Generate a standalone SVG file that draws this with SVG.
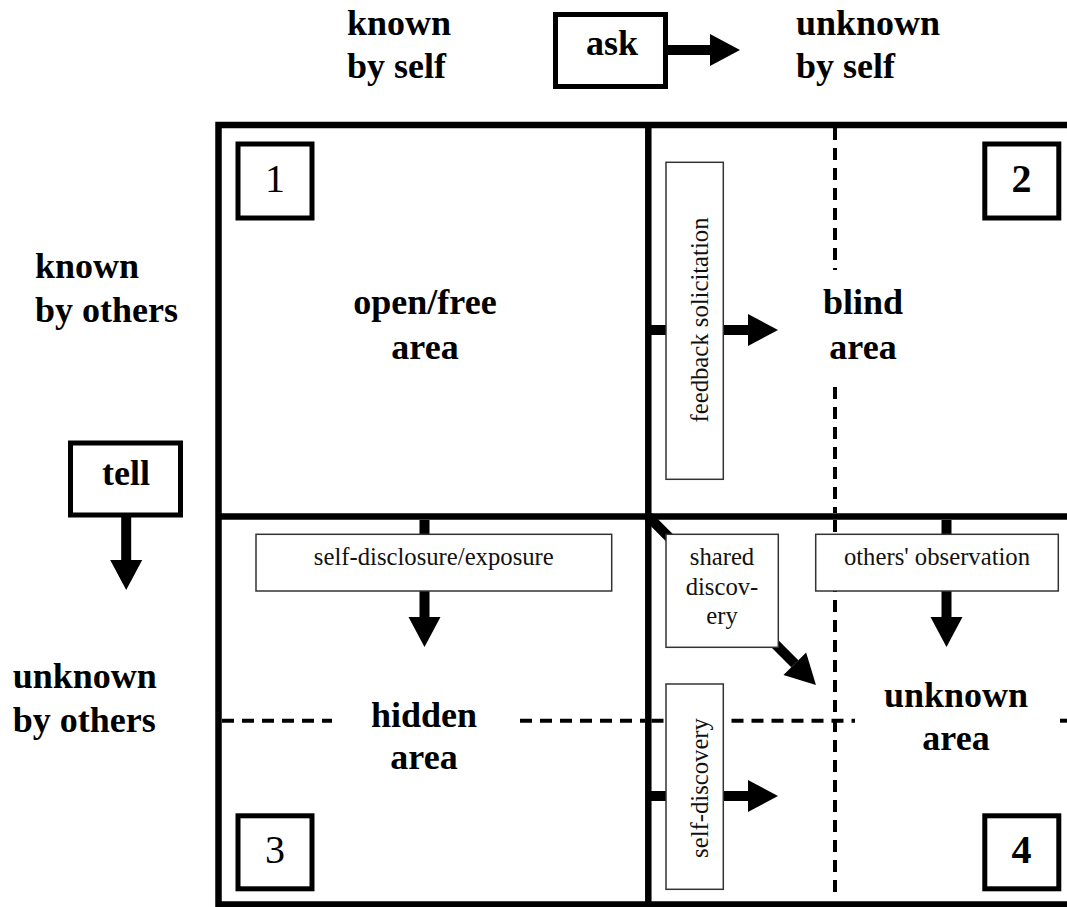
<svg xmlns="http://www.w3.org/2000/svg" width="1067" height="907" viewBox="0 0 1067 907">
  <style>
    .frame { stroke: #000; stroke-width: 6.5; fill: none; }
    .dash { stroke: #000; stroke-width: 4; stroke-dasharray: 12 8; fill: none; }
    .numbox { fill: #fff; stroke: #000; stroke-width: 5; }
    .labelbox { fill: #fff; stroke: #333; stroke-width: 1.5; }
    .shaft { stroke: #000; stroke-width: 10; fill: none; }
    .big { font-family: "Liberation Serif", "Times New Roman", serif; font-weight: bold; font-size: 36px; fill: #000; }
    .num { font-family: "Liberation Serif", "Times New Roman", serif; font-size: 40px; fill: #000; text-anchor: middle; }
    .heavy { font-weight: bold; }
    .small { font-family: "Liberation Serif", "Times New Roman", serif; font-size: 24.7px; fill: #111; text-anchor: middle; }
    .mid { text-anchor: middle; }
  </style>
  <defs>
    <marker id="head" markerUnits="userSpaceOnUse" markerWidth="30" markerHeight="32" refX="0" refY="16" orient="auto" overflow="visible">
      <path d="M0,0 L30,16 L0,32 Z" fill="#000"/>
    </marker>
  </defs>

  <rect width="1067" height="907" fill="#fff"/>

  <!-- window grid -->
  <g id="grid">
    <path class="frame" d="M1075,125 H218.5 V904.5 H1075"/>
    <path class="frame" d="M648.3,125 V904.5"/>
    <path class="frame" d="M218.5,516.5 H1075"/>
  </g>

  <!-- dashed sub-divisions -->
  <g id="dividers">
    <path class="dash" d="M835,128 V270"/>
    <path class="dash" d="M835,387 V513"/>
    <path class="dash" d="M835,520 V899"/>
    <path class="dash" d="M222,720.7 H332"/>
    <path class="dash" d="M520,720.7 H645"/>
    <path class="dash" d="M651.5,720.7 H855"/>
    <path class="dash" d="M1060,720.7 H1070"/>
  </g>

  <!-- connectors -->
  <g id="connectors">
    <line class="shaft" x1="668" y1="50" x2="710" y2="50" marker-end="url(#head)"/>
    <line class="shaft" x1="126.2" y1="517" x2="126.2" y2="560" marker-end="url(#head)"/>
    <line class="shaft" x1="651" y1="330" x2="748" y2="330" marker-end="url(#head)"/>
    <line class="shaft" x1="424.5" y1="520" x2="424.5" y2="617" marker-end="url(#head)"/>
    <line class="shaft" x1="946.5" y1="520" x2="946.5" y2="617" marker-end="url(#head)"/>
    <line class="shaft" x1="648.3" y1="516.5" x2="794.8" y2="663.8" marker-end="url(#head)"/>
    <line class="shaft" x1="651" y1="796" x2="748" y2="796" marker-end="url(#head)"/>
  </g>

  <!-- axis labels -->
  <g id="known-by-self">
    <text class="big" x="347" y="35">known</text>
    <text class="big" x="347" y="78.3">by self</text>
  </g>
  <g id="unknown-by-self">
    <text class="big" x="796" y="35">unknown</text>
    <text class="big" x="796" y="78.3">by self</text>
  </g>
  <g id="known-by-others">
    <text class="big" x="35" y="278.3">known</text>
    <text class="big" x="35" y="321.7">by others</text>
  </g>
  <g id="unknown-by-others">
    <text class="big" x="12.7" y="688.3">unknown</text>
    <text class="big" x="12.7" y="731.7">by others</text>
  </g>

  <g id="ask">
    <rect class="numbox" x="555.5" y="14.5" width="110" height="72"/>
    <text class="big mid" x="612" y="55">ask</text>
  </g>
  <g id="tell">
    <rect class="numbox" x="70.5" y="443" width="110" height="72"/>
    <text class="big mid" x="126" y="485">tell</text>
  </g>

  <!-- quadrant 1 -->
  <g id="open-area">
    <rect class="numbox" x="238" y="144" width="74" height="74"/>
    <text class="num" x="275" y="191.7">1</text>
    <text class="big mid" x="425" y="314">open/free</text>
    <text class="big mid" x="425" y="358.5">area</text>
  </g>

  <!-- quadrant 2 -->
  <g id="blind-area">
    <rect class="numbox" x="984.8" y="144" width="74" height="74"/>
    <text class="num heavy" x="1021.5" y="191.7">2</text>
    <text class="big mid" x="863" y="314">blind</text>
    <text class="big mid" x="863" y="358.5">area</text>
  </g>

  <!-- quadrant 3 -->
  <g id="hidden-area">
    <rect class="numbox" x="238" y="815.8" width="74" height="73"/>
    <text class="num" x="275" y="863">3</text>
    <text class="big mid" x="424" y="726.7">hidden</text>
    <text class="big mid" x="424" y="769.3">area</text>
  </g>

  <!-- quadrant 4 -->
  <g id="unknown-area">
    <rect class="numbox" x="984.8" y="815.8" width="74" height="73"/>
    <text class="num heavy" x="1021.5" y="863">4</text>
    <text class="big mid" x="956" y="706.7">unknown</text>
    <text class="big mid" x="956" y="750">area</text>
  </g>

  <!-- process labels -->
  <g id="feedback-solicitation">
    <rect class="labelbox" x="666" y="162.3" width="57.3" height="317"/>
    <text class="small" transform="translate(708.3,320) rotate(-90)" x="0" y="0">feedback solicitation</text>
  </g>
  <g id="self-disclosure">
    <rect class="labelbox" x="256" y="534.3" width="355.7" height="56.7"/>
    <text class="small" x="433.8" y="565">self-disclosure/exposure</text>
  </g>
  <g id="others-observation">
    <rect class="labelbox" x="815.7" y="534.3" width="242.6" height="56.7"/>
    <text class="small" x="937" y="565">others' observation</text>
  </g>
  <g id="shared-discovery">
    <rect class="labelbox" x="666" y="534.3" width="112.3" height="113"/>
    <text class="small" x="722" y="565">shared</text>
    <text class="small" x="722" y="594.5">discov-</text>
    <text class="small" x="722" y="624">ery</text>
  </g>
  <g id="self-discovery">
    <rect class="labelbox" x="666" y="684" width="57.3" height="205.3"/>
    <text class="small" transform="translate(708,788) rotate(-90)" x="0" y="0">self-discovery</text>
  </g>
</svg>
